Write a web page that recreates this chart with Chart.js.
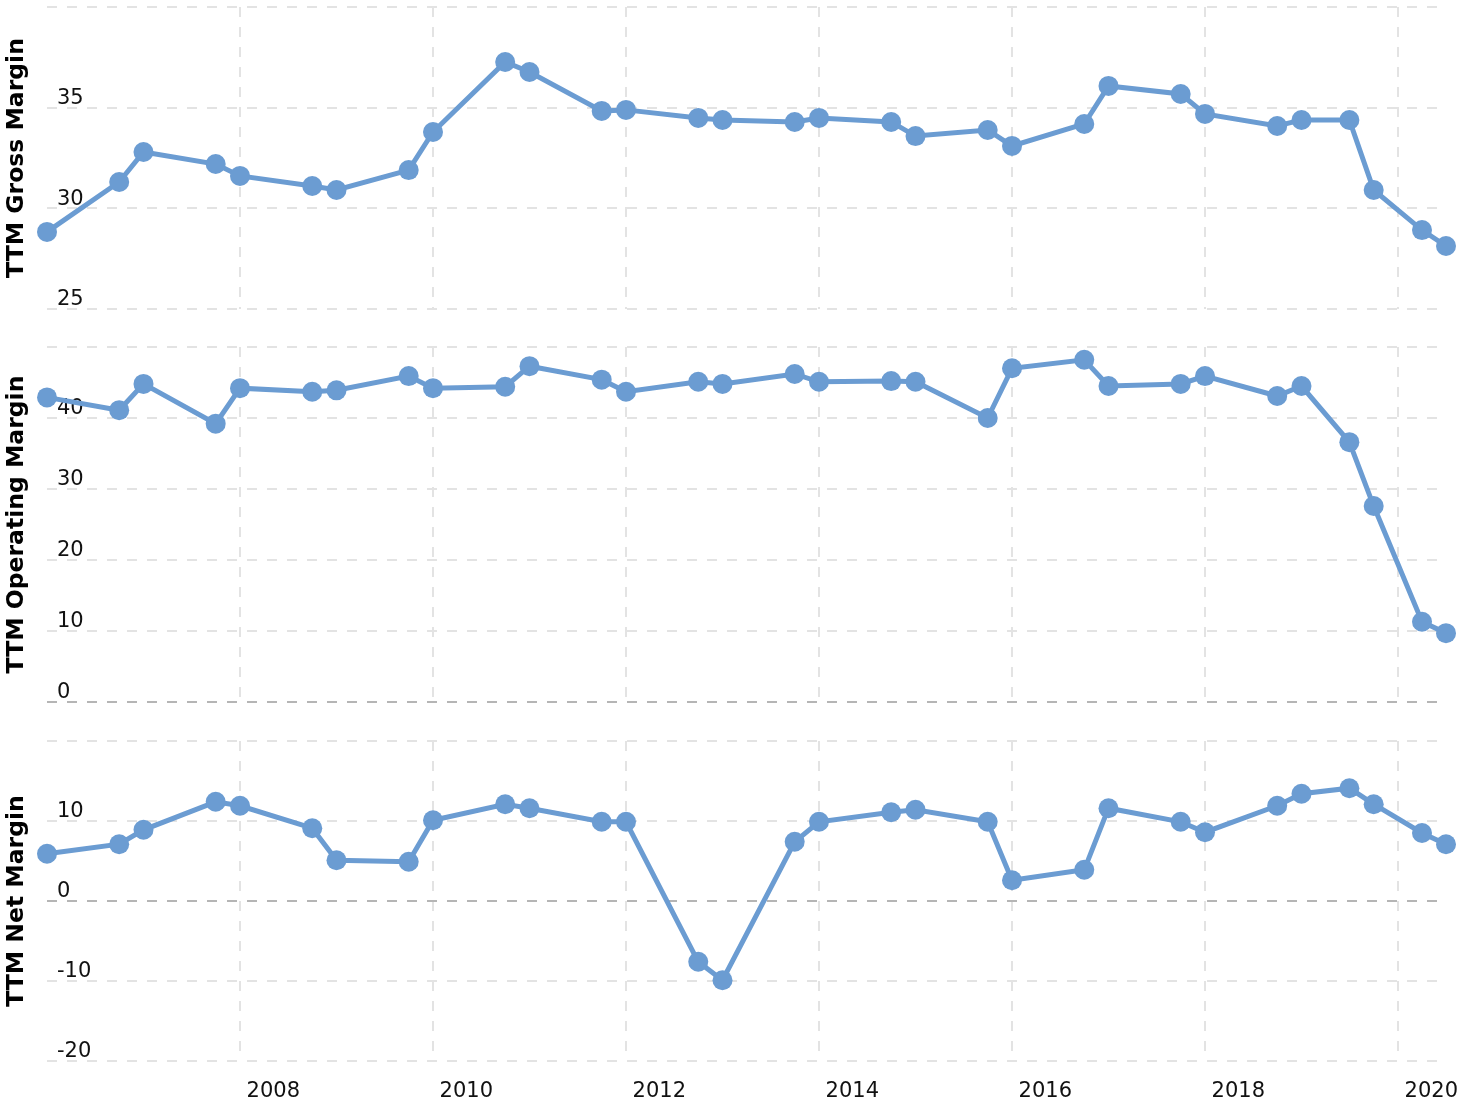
<!DOCTYPE html>
<html>
<head>
<meta charset="utf-8">
<script src="https://cdn.jsdelivr.net/npm/chart.js@4.4.1/dist/chart.umd.min.js"></script>
<style>
  body { margin: 0; background: #fff; }
  #wrap { position: relative; width: 1466px; height: 1102px; }
  .panel { position: absolute; left: 0; top: 0; width: 1466px; height: 1102px; }
</style>
</head>
<body>
<div id="wrap">
  <div class="panel"><canvas id="gross"></canvas></div>
  <div class="panel"><canvas id="operating"></canvas></div>
  <div class="panel"><canvas id="net"></canvas></div>
</div>
<script>
// quarter-end dates of the TTM figures
const quarterEnds = [
  "2005-12-31", "2006-09-30", "2006-12-31", "2007-09-30", "2007-12-31",
  "2008-09-30", "2008-12-31", "2009-09-30", "2009-12-31", "2010-09-30",
  "2010-12-31", "2011-09-30", "2011-12-31", "2012-09-30", "2012-12-31",
  "2013-09-30", "2013-12-31", "2014-09-30", "2014-12-31", "2015-09-30",
  "2015-12-31", "2016-09-30", "2016-12-31", "2017-09-30", "2017-12-31",
  "2018-09-30", "2018-12-31", "2019-06-30", "2019-09-30", "2020-03-31",
  "2020-06-30"
];

const grossMargin = [
  28.83, 31.31, 32.80, 32.20, 31.61, 31.11, 30.91, 31.90, 33.79, 37.27,
  36.77, 34.84, 34.89, 34.49, 34.39, 34.29, 34.49, 34.29, 33.59, 33.89,
  33.10, 34.19, 36.08, 35.68, 34.69, 34.09, 34.39, 34.39, 30.91, 28.92,
  28.13
];

const operatingMargin = [
  42.9, 41.1, 44.8, 39.2, 44.2, 43.7, 43.9, 45.9, 44.2, 44.4,
  47.3, 45.4, 43.7, 45.1, 44.8, 46.2, 45.1, 45.2, 45.1, 40.0,
  47.0, 48.2, 44.5, 44.8, 45.9, 43.1, 44.5, 36.6, 27.6, 11.3,
  9.7
];

const netMargin = [
  5.9, 7.1, 8.9, 12.4, 11.9, 9.1, 5.1, 4.9, 10.1, 12.1,
  11.6, 9.9, 9.9, -7.6, -9.9, 7.4, 9.9, 11.1, 11.4, 9.9,
  2.6, 3.9, 11.6, 9.9, 8.6, 11.9, 13.4, 14.1, 12.1, 8.5,
  7.1
];

const yearTicks = [2008, 2010, 2012, 2014, 2016, 2018, 2020];

function toYear(s) {
  const d = new Date(s + "T00:00:00Z");
  const y = d.getUTCFullYear();
  const start = Date.UTC(y, 0, 1);
  const end = Date.UTC(y + 1, 0, 1);
  return y + (d.getTime() - start) / (end - start);
}

const xs = quarterEnds.map(toYear);
const BLUE = "#6b9cd2";
const FONT = "'DejaVu Sans', Verdana, sans-serif";

function makePanel(id, values, opts) {
  const points = values.map((v, i) => ({ x: xs[i], y: v }));
  return new Chart(document.getElementById(id), {
    type: "line",
    data: {
      datasets: [{
        data: points,
        borderColor: BLUE,
        backgroundColor: BLUE,
        borderWidth: 5,
        pointRadius: 10,
        pointBorderWidth: 0,
        pointBackgroundColor: BLUE,
        tension: 0,
        clip: false,
      }],
    },
    options: {
      responsive: true,
      maintainAspectRatio: false,
      animation: false,
      events: [],
      layout: {
        autoPadding: false,
        padding: { top: opts.top, bottom: opts.showX ? 0 : opts.bottom, left: 0, right: 20 },
      },
      plugins: { legend: { display: false }, tooltip: { enabled: false } },
      scales: {
        x: {
          type: "linear",
          min: xs[0],
          max: xs[xs.length - 1],
          afterBuildTicks: (s) => { s.ticks = yearTicks.map((v) => ({ value: v })); },
          afterFit: (s) => {
            s.height = opts.showX ? opts.bottom : 0;
            s.paddingLeft = 0;
            s.paddingRight = 0;
          },
          grid: { color: "#e3e3e3", lineWidth: 2, drawTicks: false },
          border: { display: false, dash: [10, 10] },
          ticks: {
            display: opts.showX,
            autoSkip: false,
            maxRotation: 0,
            padding: 18,
            labelOffset: 33,
            color: "#111",
            font: { family: FONT, size: 21 },
            callback: (v) => String(v),
          },
        },
        y: {
          min: opts.min,
          max: opts.max,
          afterFit: (s) => {
            s.width = 47;
            s.paddingTop = 0;
            s.paddingBottom = 0;
          },
          grid: {
            lineWidth: 2,
            drawTicks: false,
            color: (c) => (c.tick && c.tick.value === 0 ? "#b5b5b5" : "#e3e3e3"),
          },
          border: { display: false, dash: [10, 10] },
          ticks: {
            stepSize: opts.step,
            mirror: true,
            padding: 10,
            labelOffset: -9,
            color: "#111",
            font: { family: FONT, size: 21 },
            callback: (v) => (v === opts.max ? "" : String(v)),
          },
          title: {
            display: true,
            text: opts.title,
            color: "#000",
            font: { family: FONT, size: 23.5, weight: "bold" },
            padding: { top: 3, bottom: 0 },
          },
        },
      },
    },
  });
}

makePanel("gross", grossMargin, {
  top: 7, bottom: 793, min: 25, max: 40, step: 5, title: "TTM Gross Margin", showX: false,
});
makePanel("operating", operatingMargin, {
  top: 347, bottom: 400, min: 0, max: 50, step: 10, title: "TTM Operating Margin", showX: false,
});
makePanel("net", netMargin, {
  top: 741, bottom: 41, min: -20, max: 20, step: 10, title: "TTM Net Margin", showX: true,
});
</script>
</body>
</html>
